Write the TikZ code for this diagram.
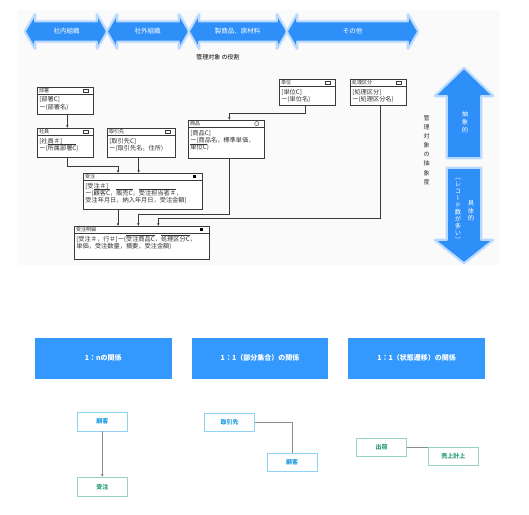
\documentclass[tikz,border=0pt]{standalone}
\usepackage{fontspec}
\setmainfont{Noto Sans CJK JP}
\newfontfamily\vfont[RawFeature=+vert]{Noto Sans CJK JP}
\usetikzlibrary{arrows.meta,calc}
\definecolor{arrowblue}{HTML}{2F8FF8}
\definecolor{glow}{HTML}{B8D8FF}
\definecolor{relblue}{HTML}{3399FF}
\definecolor{skyb}{HTML}{8ED2F4}
\definecolor{skyt}{HTML}{1D9BE2}
\definecolor{mintb}{HTML}{98D5BE}
\definecolor{mintt}{HTML}{27A070}
\definecolor{entline}{HTML}{3A3A3A}
\definecolor{bggray}{HTML}{FAFAFA}
\newbox\fkbox
\newcommand\fkey[1]{\setbox\fkbox\hbox{#1}\rlap{\raisebox{\dimexpr\ht\fkbox+0.4pt\relax}[0pt][0pt]{\rule{\wd\fkbox}{0.35pt}}}\box\fkbox}
\tikzset{
  bigarrow/.style={fill=arrowblue, draw=glow, line width=1.6pt, line join=round,
     preaction={draw=glow!55, line width=3.4pt, line join=round}},
  arrowtext/.style={text=white, font=\fontsize{6.5}{7.5}\selectfont, inner sep=0},
  ent/.style={draw=entline, line width=0.7pt, fill=white, inner sep=0, rectangle},
  enttitle/.style={font=\fontsize{5}{6}\selectfont, inner sep=0, text=black!80, anchor=west},
  entbody/.style={font=\fontsize{6.2}{7.3}\selectfont, align=left, inner sep=0, text=black!80, anchor=north west},
  mksq/.style={draw=entline, line width=0.4pt, minimum width=5pt, minimum height=3.6pt, inner sep=0},
  mkcirc/.style={draw=entline, line width=0.4pt, circle, minimum size=4.2pt, inner sep=0},
  mkfill/.style={fill=black, minimum size=3pt, inner sep=0},
  conn/.style={draw=entline, line width=0.6pt, -{Latex[length=2.6pt,width=2.6pt]}},
  relbox/.style={fill=relblue, minimum width=136.7pt, minimum height=41.3pt, inner sep=0,
     text=white, font=\bfseries\fontsize{7}{8}\selectfont},
  skybox/.style={draw=skyb, line width=0.9pt, fill=white, minimum width=50pt, minimum height=18.5pt,
     inner sep=0, text=skyt, font=\bfseries\fontsize{6}{7}\selectfont},
  mintbox/.style={draw=mintb, line width=0.9pt, fill=white, minimum width=50pt, minimum height=18.5pt,
     inner sep=0, text=mintt, font=\bfseries\fontsize{6}{7}\selectfont},
  grayline/.style={draw=black!45, line width=0.9pt},
}
\newcommand\harrow[2]{%
  \path[bigarrow] (#1,31.5) -- ({#1+10},14.5) -- ({#1+10},21.5) -- ({#2-10},21.5) -- ({#2-10},14.5)
     -- (#2,31.5) -- ({#2-10},48.5) -- ({#2-10},41.5) -- ({#1+10},41.5) -- ({#1+10},48.5) -- cycle;}
% name, x, y, w, h, title, marker style, body
\newcommand\entity[8]{%
  \node[ent, minimum width=#4pt, minimum height=#5pt, anchor=north west] (#1) at (#2,#3) {};
  \draw[draw=entline, line width=0.5pt] ([yshift=-7pt]#1.north west) -- ([yshift=-7pt]#1.north east);
  \node[enttitle] (#1-t) at ([xshift=2pt,yshift=-3.6pt]#1.north west) {#6};
  \node[#7] (#1-m) at ([xshift=-8pt,yshift=-3.6pt]#1.north east) {};
  \node[entbody] (#1-b) at ([xshift=2.2pt,yshift=-9.6pt]#1.north west) {#8};
}
\begin{document}
\begin{tikzpicture}[x=1pt,y=-1pt]
\useasboundingbox (0,0) rectangle (529,514);
\fill[bggray] (18,10) rectangle (500,265);

% top role arrows
\harrow{25}{107}
\harrow{107}{189}
\harrow{189}{287}
\harrow{287}{418}
\node[arrowtext] (r1) at (66.7,31) {社内組織};
\node[arrowtext] (r2) at (147.5,31) {社外組織};
\node[arrowtext] (r3) at (237.5,31) {製商品、原材料};
\node[arrowtext] (r4) at (352.5,31) {その他};
\node[inner sep=0, font=\fontsize{6}{7}\selectfont] (role) at (218,57.5) {管理対象 の役割};

% vertical arrows
\path[bigarrow] (464,68) -- (493,96) -- (481,96) -- (481,158) -- (447,158) -- (447,96) -- (435,96) -- cycle;
\path[bigarrow] (447,168) -- (481,168) -- (481,240) -- (493,240) -- (464,263) -- (435,240) -- (447,240) -- cycle;
\node[arrowtext, align=center, font=\fontsize{6.3}{8}\selectfont] (abs) at (465,122) {抽\\象\\的};
\node[arrowtext, align=center, font=\fontsize{6.3}{7.6}\selectfont] (con) at (471,211) {具\\体\\的};
\node[arrowtext, align=center, font=\vfont\fontsize{6.3}{7}\selectfont] (rec) at (458,210) {（\\レ\\コ\\ー\\ド\\数\\が\\多\\い\\）};
\node[inner sep=0, align=center, font=\fontsize{6}{9.1}\selectfont, text=black!80] (absdeg) at (426.5,150) {管\\理\\対\\象\\の\\抽\\象\\度};

% entities
\entity{bumon}{37}{87}{56}{27}{部署}{mksq}{[部署C]\\ー(部署名)}
\entity{shain}{37}{128}{56}{29}{社員}{mksq}{[社員＃]\\ー(\fkey{所属部署C})}
\entity{tori}{107}{128}{68}{29}{取引先}{mksq}{[取引先C]\\ー(取引先名，住所)}
\entity{shohin}{188}{120}{76}{38}{商品}{mkcirc}{[商品C]\\ー(商品名，標準単価，\\\fkey{単位C})}
\entity{tani}{279}{79}{56}{26}{単位}{mksq}{[単位C]\\ー(単位名)}
\entity{shori}{350}{79}{56}{26}{処理区分}{mksq}{[処理区分]\\ー(処理区分名)}
\entity{juchu}{83}{173}{119}{36}{受注}{mkfill}{[受注＃]\\ー(\fkey{顧客C}，\fkey{販売C}，\fkey{受注担当者＃}，\\受注年月日，納入年月日，受注金額)}
\entity{meisai}{74}{226}{135}{33}{受注明細}{mkfill}{[受注＃，行＃]ー(\fkey{受注商品C}，\fkey{処理区分C}，\\単価，受注数量，摘要，受注金額)}

% connectors
\draw[conn] ([xshift=2pt]bumon.south) -- ([xshift=2pt]shain.north);
\draw[conn] ([xshift=2pt]shain.south) -- ++(0,-8.7pt) -| ([xshift=-24.8pt]juchu.north);
\draw[conn] ([xshift=-2.7pt]tori.south) -- ([xshift=-2.7pt]tori.south |- juchu.north);
\draw[conn] ([xshift=-2pt]tani.south) -- ++(0,-7.7pt) -| ([xshift=3pt]shohin.north);
\draw[conn] ([xshift=3pt]shohin.south) -- ++(0,-56pt) -| ([xshift=-3.5pt]meisai.north);
\draw[conn] ([xshift=2pt]shori.south) -- ++(0,-112.3pt) -| ([xshift=16.5pt]meisai.north);
\draw[conn] ([xshift=-24.8pt]juchu.south) -- ([xshift=-24.8pt]juchu.south |- meisai.north);

% relation headers
\node[relbox] (rel1) at (103.3,358.3) {1：nの関係};
\node[relbox] (rel2) at (260,358.3) {1：1（部分集合）の関係};
\node[relbox] (rel3) at (416.7,358.3) {1：1（状態遷移）の関係};

% examples
\node[skybox] (kok1) at (102.3,421.7) {顧客};
\node[mintbox] (jch2) at (102.3,486.8) {受注};
\node[skybox] (tor2) at (229.7,422.5) {取引先};
\node[skybox] (kok2) at (292,462.5) {顧客};
\node[mintbox] (shk) at (381.7,447.5) {出荷};
\node[mintbox] (uri) at (453.3,456.2) {売上計上};
\draw[grayline, -{Latex[length=3pt,width=3pt]}] (kok1.south) -- (jch2.north);
\draw[grayline] (tor2.east) -| (kok2.north);
\draw[grayline] (shk.east) -- (shk.east -| uri.west);
\end{tikzpicture}
\end{document}
